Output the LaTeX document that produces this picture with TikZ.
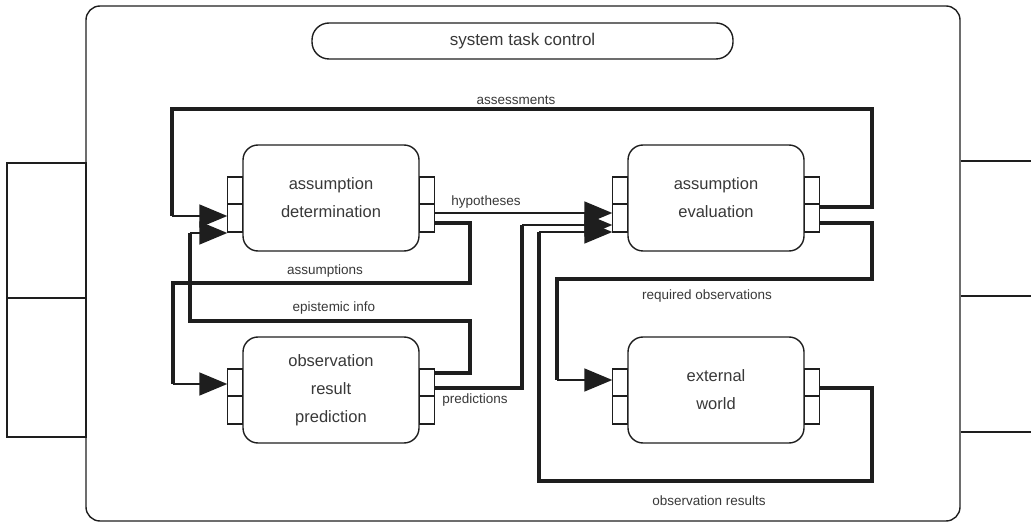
\documentclass[tikz,border=0pt]{standalone}
\usepackage{fontspec}
\setmainfont{Liberation Sans}
\usepackage{xcolor}
\definecolor{ink}{HTML}{1E1E1E}
\definecolor{txt}{HTML}{383838}
\usepackage{tikz}
\usetikzlibrary{arrows.meta}
\usetikzlibrary{calc}
\usetikzlibrary{positioning}

% the two port cells on each side of a component
\newcommand{\ports}[1]{%
  \draw[port] ($(#1.west)+(-15,-21)$) rectangle ($(#1.west)+(0,6)$);
  \draw[port] ($(#1.west)+(-15,6)$) rectangle ($(#1.west)+(0,34)$);
  \draw[port] ($(#1.east)+(0,-21)$) rectangle ($(#1.east)+(15,6)$);
  \draw[port] ($(#1.east)+(0,6)$) rectangle ($(#1.east)+(15,34)$);}

\begin{document}
\begin{tikzpicture}[x=1pt, y=-1pt,
    comp/.style={draw=ink, line width=1.4pt, rounded corners=15pt, minimum width=176pt,
      minimum height=106pt, align=center, text=txt, font=\fontsize{16.5}{28}\selectfont},
    port/.style={draw=ink, line width=1.4pt},
    flow/.style={draw=ink, line width=3.6pt},
    feed/.style={draw=ink, line width=1.6pt, -{Triangle[length=28pt, width=23pt]}},
    tag/.style={text=txt, font=\fontsize{13.5}{16}\selectfont}]

    \useasboundingbox (0,0) rectangle (1031,529);

    \node[draw=ink, line width=1.4pt, rounded corners=14pt, minimum width=874pt,
      minimum height=515pt] (sys) at (523,263.5) {};
    \node[draw=ink, line width=1.4pt, rounded corners=17pt, minimum width=421pt,
      minimum height=36pt, text=txt, font=\fontsize{17}{20}\selectfont] (task) at (522.5,41) {system task control};

    % neighbours of the system
    \node[port, minimum width=79pt, minimum height=135pt] (inA) at (46.5,230.5) {};
    \node[port, minimum width=79pt, minimum height=139pt] (inB) at (46.5,367.5) {};
    \draw[port] (sys.east |- 0,161) -- (1031,161);
    \draw[port] (sys.east |- 0,296) -- (1031,296);
    \draw[port] (sys.east |- 0,432) -- (1031,432);

    \node[comp] (det) at (331,198) {assumption\\determination};
    \node[comp] (eval) at (716,198) {assumption\\evaluation};
    \node[comp] (pred) at (331,390) {observation\\result\\prediction};
    \node[comp] (world) at (716,390) {external\\world};
    \ports{det}
    \ports{eval}
    \ports{pred}
    \ports{world}

    \draw[flow] ($(eval.east)+(15,9)$) -| (872,109) -| (172,216) coordinate (s1);
    \draw[feed] (s1) -- ($(det.west)+(-15,18)$);
    \node[tag] (sLab) at (516,100) {assessments};

    \draw[feed] ($(det.east)+(15,15)$) -- ($(eval.west)+(-15,15)$);
    \node[tag] (hLab) at (486,202) {hypotheses};

    \draw[flow] ($(det.east)+(15,25)$) -| (470,283) -| (173,384) coordinate (a1);
    \draw[feed] (a1) -- ($(pred.west)+(-15,-6)$);
    \node[tag] (aLab) at (325,271) {assumptions};

    \draw[flow] ($(pred.east)+(15,-17)$) -| (470,321) -| (190,233) coordinate (e1);
    \draw[feed] (e1) -- ($(det.west)+(-15,35)$);
    \node[tag] (eLab) at (334,308) {epistemic info};

    \draw[flow] ($(pred.east)+(15,-2)$) -| (522,225) coordinate (p1);
    \draw[feed] (p1) -- ($(eval.west)+(-15,27)$);
    \node[tag] (pLab) at (475,400) {predictions};

    \draw[flow] ($(eval.east)+(15,25)$) -| (872,279) -| (557,380) coordinate (r1);
    \draw[feed] (r1) -- ($(world.west)+(-15,-10)$);
    \node[tag] (rLab) at (707,296) {required observations};

    \draw[flow] ($(world.east)+(15,-2)$) -| (872,481) -| (539,232) coordinate (o1);
    \draw[feed] (o1) -- ($(eval.west)+(-15,34)$);
    \node[tag] (oLab) at (709,501) {observation results};

\end{tikzpicture}
\end{document}
